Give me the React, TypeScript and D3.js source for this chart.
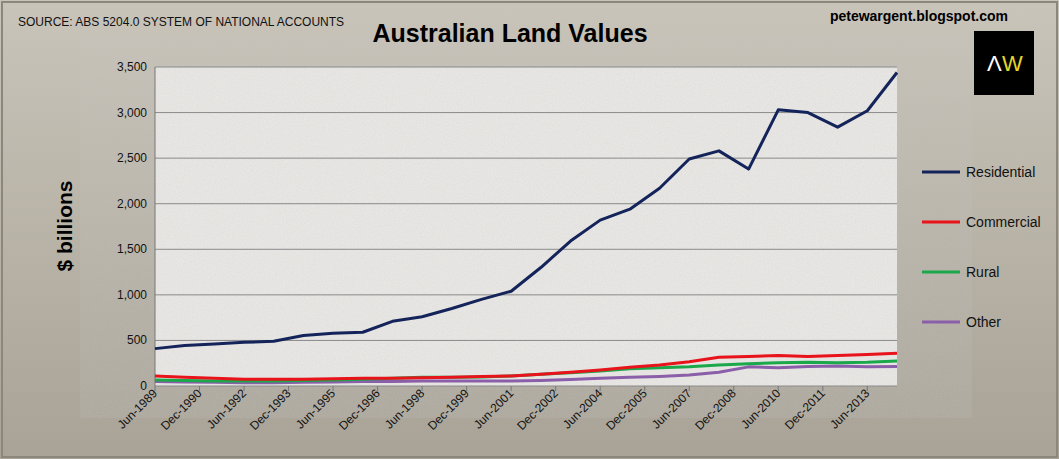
import React, { useEffect, useRef } from "react";
import * as d3 from "d3";

const years = d3.range(1989, 2015);
const residential = [410, 445, 460, 480, 490, 555, 580, 590, 710, 760, 850, 950, 1040, 1300, 1590, 1820, 1940, 2170, 2490, 2580, 2380, 3030, 3000, 2840, 3020, 3440];
const commercial = [110, 95, 85, 75, 75, 75, 80, 85, 85, 90, 95, 105, 110, 130, 150, 175, 205, 230, 265, 315, 325, 335, 325, 335, 345, 360];
const rural = [65, 60, 55, 55, 55, 60, 65, 75, 85, 95, 95, 100, 110, 130, 145, 165, 190, 200, 210, 230, 245, 255, 260, 255, 260, 275];
const other = [50, 45, 40, 35, 35, 40, 45, 50, 50, 55, 55, 55, 55, 60, 70, 85, 95, 105, 120, 150, 210, 200, 215, 220, 210, 215];
const series = [
  { name: "Residential", values: residential, color: "#14245a" },
  { name: "Commercial", values: commercial, color: "#e8131b" },
  { name: "Rural", values: rural, color: "#1aa84b" },
  { name: "Other", values: other, color: "#8a5ea8" },
];
const yTicks = [0, 500, 1000, 1500, 2000, 2500, 3000, 3500];
const xLabels = ["Jun-1989", "Dec-1990", "Jun-1992", "Dec-1993", "Jun-1995", "Dec-1996", "Jun-1998", "Dec-1999", "Jun-2001", "Dec-2002", "Jun-2004", "Dec-2005", "Jun-2007", "Dec-2008", "Jun-2010", "Dec-2011", "Jun-2013"];

export default function App() {
  const ref = useRef<SVGSVGElement | null>(null);

  useEffect(() => {
    if (!ref.current) return;
    const svg = d3.select(ref.current);
    svg.selectAll("*").remove();
    const W = 1059, H = 459;
    const m = { l: 155, r: 897, t: 67, b: 386 };

    const defs = svg.append("defs");
    const bg = defs.append("linearGradient").attr("id", "bg").attr("x1", 0).attr("y1", 0).attr("x2", 0).attr("y2", 1);
    bg.append("stop").attr("offset", "0%").attr("stop-color", "#c9c4b9");
    bg.append("stop").attr("offset", "100%").attr("stop-color", "#a9a397");
    const f = defs.append("filter").attr("id", "noise");
    f.append("feTurbulence").attr("type", "fractalNoise").attr("baseFrequency", 0.9).attr("numOctaves", 2).attr("result", "n");
    f.append("feColorMatrix").attr("type", "matrix")
      .attr("values", "0 0 0 0 0.55  0 0 0 0 0.55  0 0 0 0 0.55  0 0 0 0.35 0");

    svg.append("rect").attr("width", W).attr("height", H).attr("fill", "url(#bg)");
    svg.append("rect").attr("x", 2).attr("y", 2).attr("width", W - 4).attr("height", H - 4)
      .attr("fill", "none").attr("stroke", "#8c877d").attr("stroke-width", 2);

    const x = d3.scaleLinear().domain([1989, 2014]).range([m.l, m.r]);
    const y = d3.scaleLinear().domain([0, 3500]).range([m.b, m.t]);

    svg.append("rect").attr("x", m.l).attr("y", m.t).attr("width", m.r - m.l).attr("height", m.b - m.t).attr("fill", "#ecebe8");
    svg.append("rect").attr("x", m.l).attr("y", m.t).attr("width", m.r - m.l).attr("height", m.b - m.t).attr("filter", "url(#noise)");

    svg.append("g").selectAll("line").data(yTicks).enter().append("line")
      .attr("x1", m.l).attr("x2", m.r).attr("y1", (d) => y(d)).attr("y2", (d) => y(d))
      .attr("stroke", "#8a8a8a").attr("stroke-width", 1);
    svg.append("line").attr("x1", m.l).attr("x2", m.l).attr("y1", m.t).attr("y2", m.b).attr("stroke", "#777");

    svg.append("g").selectAll("text").data(yTicks).enter().append("text")
      .attr("x", m.l - 8).attr("y", (d) => y(d) + 4).attr("text-anchor", "end")
      .attr("font-family", "Arial, Liberation Sans").attr("font-size", 12).attr("fill", "#111")
      .text((d) => d3.format(",")(d));

    xLabels.forEach((lab, i) => {
      const xv = x(1989 + i * 1.5);
      svg.append("line").attr("x1", xv).attr("x2", xv).attr("y1", m.b).attr("y2", m.b + 5).attr("stroke", "#777");
      svg.append("text").attr("transform", `translate(${xv + 3},${m.b + 8}) rotate(-45)`)
        .attr("text-anchor", "end").attr("font-family", "Arial, Liberation Sans").attr("font-size", 12).attr("fill", "#111")
        .text(lab);
    });

    const line = d3.line<number>().x((_, i) => x(years[i])).y((d) => y(d));
    series.slice().reverse().forEach((s) => {
      svg.append("path").attr("d", line(s.values)!).attr("fill", "none")
        .attr("stroke", s.color).attr("stroke-width", 3).attr("stroke-linejoin", "round");
    });

    series.forEach((s, i) => {
      const ly = 172 + i * 50;
      svg.append("line").attr("x1", 922).attr("x2", 960).attr("y1", ly).attr("y2", ly).attr("stroke", s.color).attr("stroke-width", 3);
      svg.append("text").attr("x", 966).attr("y", ly + 5).attr("font-family", "Arial, Liberation Sans").attr("font-size", 14).attr("fill", "#111").text(s.name);
    });

    const font = "Arial, Liberation Sans";
    svg.append("text").attr("x", 510).attr("y", 42).attr("text-anchor", "middle").attr("font-family", font)
      .attr("font-weight", "bold").attr("font-size", 25).attr("fill", "#000").text("Australian Land Values");
    svg.append("text").attr("x", 18).attr("y", 26).attr("font-family", font).attr("font-size", 12).attr("fill", "#111")
      .text("SOURCE: ABS 5204.0 SYSTEM OF NATIONAL ACCOUNTS");
    svg.append("text").attr("x", 1008).attr("y", 21).attr("text-anchor", "end").attr("font-family", font)
      .attr("font-weight", "bold").attr("font-size", 14).attr("fill", "#000").text("petewargent.blogspot.com");
    svg.append("text").attr("transform", "translate(72,226) rotate(-90)").attr("text-anchor", "middle").attr("font-family", font)
      .attr("font-weight", "bold").attr("font-size", 21).attr("fill", "#000").text("$ billions");

    svg.append("rect").attr("x", 974).attr("y", 31).attr("width", 60).attr("height", 64).attr("fill", "#000");
    svg.append("text").attr("x", 987).attr("y", 71).attr("font-family", font).attr("font-size", 22).attr("fill", "#fff").text("Λ");
    svg.append("text").attr("x", 1002).attr("y", 71).attr("font-family", font).attr("font-size", 22).attr("fill", "#e3d62c").text("W");
  }, []);

  return <svg ref={ref} width={1059} height={459} style={{ position: "absolute", left: 0, top: 0 }} />;
}
